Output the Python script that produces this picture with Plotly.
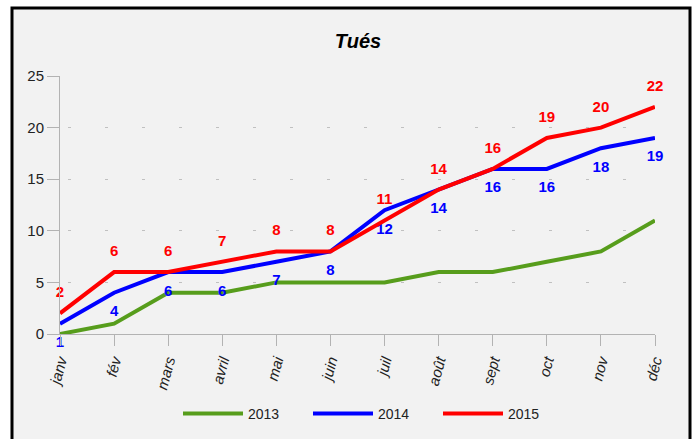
import plotly.graph_objects as go

months = ["janv", "fév", "mars", "avril", "mai", "juin", "juil", "août", "sept", "oct", "nov", "déc"]
y2013 = [0, 1, 4, 4, 5, 5, 5, 6, 6, 7, 8, 11]
y2014 = [1, 4, 6, 6, 7, 8, 12, 14, 16, 16, 18, 19]
y2015 = [2, 6, 6, 7, 8, 8, 11, 14, 16, 19, 20, 22]
yticks = [0, 5, 10, 15, 20, 25]

FONT = "Liberation Sans, Arial, sans-serif"
x = list(range(len(months)))
inv = dict(size=18, color="rgba(0,0,0,0)")

fig = go.Figure()
fig.add_trace(go.Scatter(x=x, y=y2013, name="2013", mode="lines",
                         line=dict(color="#579d1c", width=4), cliponaxis=False))
fig.add_trace(go.Scatter(x=x, y=y2014, name="2014", mode="lines+markers+text",
                         line=dict(color="#0000ff", width=4), marker=inv, cliponaxis=False,
                         text=[str(v) for v in y2014], textposition="bottom center",
                         textfont=dict(color="#0000ff", size=15, family=FONT, weight="bold")))
fig.add_trace(go.Scatter(x=x, y=y2015, name="2015", mode="lines+markers+text",
                         line=dict(color="#ff0000", width=4), marker=inv, cliponaxis=False,
                         text=[str(v) for v in y2015], textposition="top center",
                         textfont=dict(color="#ff0000", size=15, family=FONT, weight="bold")))

L, R, T, B = 60, 39, 76, 105
W, H = 694, 439
pw, ph = W - L - R, H - T - B

def px_x(p):
    return (p - L) / pw

def px_y(p):
    return (H - B - p) / ph

fig.add_shape(type="rect", xref="paper", yref="paper",
              x0=px_x(12), x1=px_x(690), y0=px_y(447), y1=px_y(8),
              fillcolor="#f2f2f2", line=dict(color="black", width=3), layer="below")

fig.update_layout(
    width=W, height=H,
    margin=dict(l=L, r=R, t=T, b=B, autoexpand=False),
    paper_bgcolor="white", plot_bgcolor="rgba(0,0,0,0)",
    font=dict(family=FONT, size=14, color="#222222"),
    title=dict(text="<b><i>Tués</i></b>", x=px_x(358), xref="paper", xanchor="center",
               y=1 - 41 / H, yanchor="middle", font=dict(size=20, color="black", family=FONT)),
    showlegend=True,
    legend=dict(orientation="h", x=px_x(373), xanchor="center", y=px_y(414), yanchor="middle",
                bgcolor="rgba(0,0,0,0)", font=dict(size=14, color="#222222"),
                entrywidth=55, itemwidth=60),
    xaxis=dict(range=[0, 11], tickmode="array", tickvals=x, ticktext=months,
               tickangle=-75, tickfont=dict(size=15, style="italic"), automargin=False,
               showgrid=False, showline=True, linecolor="#b3b3b3", linewidth=1,
               ticks="outside", ticklen=11, tickcolor="#b3b3b3", zeroline=False),
    yaxis=dict(range=[0, 25], tickmode="array", tickvals=yticks, automargin=False,
               showgrid=True, gridcolor="#c0c0c0", griddash="0px,8px,3px,26px", gridwidth=1,
               showline=True, linecolor="#b3b3b3", linewidth=1,
               ticks="outside", ticklen=12, tickcolor="#b3b3b3", zeroline=False,
               tickfont=dict(size=15)),
)

fig.write_html("out.html", config={"displayModeBar": False},
               post_script="document.body.style.margin='0';")
